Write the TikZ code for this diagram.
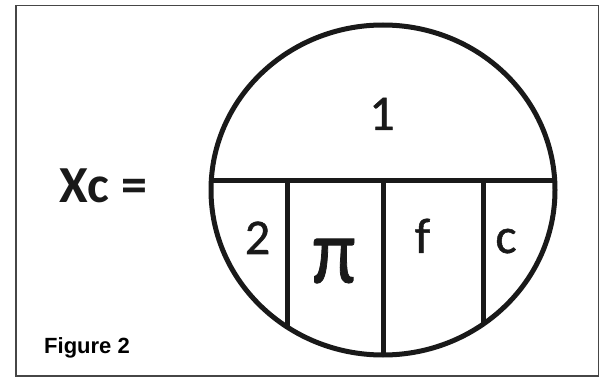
\documentclass[tikz,border=0pt]{standalone}
\usepackage{fontspec}
\setmainfont{Carlito}
\newfontfamily\captionfont{Liberation Sans}
\newfontfamily\cellfont[FakeBold=1]{Carlito}
\definecolor{inkblack}{RGB}{25,25,25}
\definecolor{framegray}{RGB}{70,70,70}

\begin{document}
\begin{tikzpicture}[
  x=1pt, y=1pt,
  every node/.style={inner sep=0pt, text=inkblack},
  outline/.style={line width=5pt, draw=inkblack},
  cell_label/.style={font=\cellfont\fontsize{50}{50}\selectfont, anchor=base},
  frame_style/.style={line width=1.3pt, draw=framegray}
]
\useasboundingbox (0,0) rectangle (603,378);

% Frame
\draw[frame_style] (16,372.5) rectangle (598.5,2);

% Dividers, cut by the circle
\begin{scope}
  \clip (383,188) ellipse [x radius=172, y radius=165];
  \draw[outline] (200,197) -- (570,197);
  \foreach \xd in {287.5,383.5,483.5}
    \draw[outline] (\xd,197) -- (\xd,0);
\end{scope}

% Circle
\draw[outline] (383,188) ellipse [x radius=172, y radius=165];

% Cell labels
\node[cell_label] (one) at (382,248) {1};
\node[cell_label] (two) at (257.5,124) {2};
\node[font=\cellfont\fontsize{62}{62}\selectfont, xscale=1.25, yscale=1.5] (pi) at (334,117) {π};
\node[cell_label] (eff) at (422.5,125) {f};
\node[cell_label] (cee) at (506,125) {c};

% Left hand side
\node[font=\fontsize{52}{52}\selectfont\bfseries, anchor=base west] (lhs) at (59,175) {Xc =};

% Caption
\node[font=\captionfont\fontsize{22}{22}\selectfont\bfseries, anchor=base west, text=black] (caption) at (44,25) {Figure 2};

\end{tikzpicture}
\end{document}
